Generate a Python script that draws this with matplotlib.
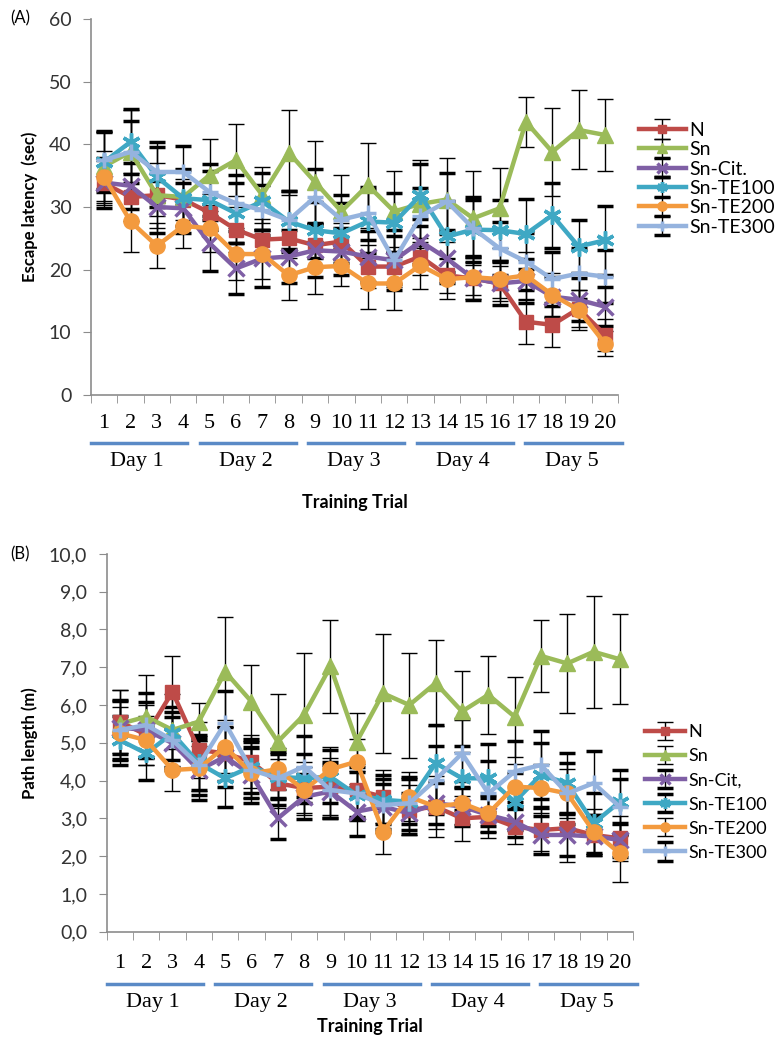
import numpy as np
import matplotlib
matplotlib.use('Agg')
from matplotlib import pyplot as plt
from matplotlib.transforms import blended_transform_factory

trials = np.arange(1, 21)
days = ['Day 1', 'Day 2', 'Day 3', 'Day 4', 'Day 5']

names_a = ['N', 'Sn', 'Sn-Cit.', 'Sn-TE100', 'Sn-TE200', 'Sn-TE300']
names_b = ['N', 'Sn', 'Sn-Cit,', 'Sn-TE100', 'Sn-TE200', 'Sn-TE300']

# (A) escape latency, sec
lat_n = [33.8, 31.6, 31.9, 31.2, 29.1, 26.4, 24.8, 25.0, 23.9, 24.5,
         20.5, 20.5, 22.1, 19.1, 18.6, 17.8, 11.7, 11.2, 13.8, 9.6]
lat_sn = [36.5, 38.8, 31.9, 31.6, 35.1, 37.5, 31.9, 38.7, 34.0, 29.3,
          33.5, 29.3, 30.5, 31.2, 28.2, 29.8, 43.6, 38.8, 42.3, 41.5]
lat_cit = [33.9, 33.4, 30.0, 29.8, 24.2, 20.2, 21.8, 22.1, 23.1, 22.9,
           22.1, 21.5, 24.5, 21.8, 18.6, 17.8, 18.2, 15.7, 15.2, 14.1]
lat_te100 = [37.2, 40.4, 34.8, 31.4, 31.1, 29.0, 30.9, 27.7, 26.3, 25.8,
             27.7, 27.5, 31.9, 25.3, 26.4, 26.3, 25.7, 28.7, 23.7, 24.7]
lat_te200 = [34.8, 27.7, 23.8, 27.0, 26.6, 22.5, 22.5, 19.1, 20.4, 20.6,
             17.8, 17.8, 20.7, 18.5, 18.8, 18.5, 19.1, 16.0, 13.6, 8.2]
lat_te300 = [37.5, 38.8, 35.6, 35.6, 32.4, 30.6, 29.5, 27.9, 31.6, 28.0,
             29.0, 21.5, 28.5, 30.9, 26.6, 23.4, 21.3, 18.5, 19.4, 18.9]

lat_n_err = [3.5, 3.8, 3.4, 3.2, 3.0, 3.6, 3.3, 3.2, 3.5, 3.0,
             3.4, 3.2, 3.0, 2.8, 2.6, 2.8, 3.5, 3.6, 3.0, 2.6]
lat_sn_err = [5.5, 6.7, 5.2, 4.6, 5.8, 5.7, 4.5, 6.8, 6.5, 5.8,
              6.8, 6.5, 7.0, 6.7, 7.5, 6.4, 4.0, 7.0, 6.3, 5.8]
lat_cit_err = [4.0, 3.7, 4.2, 4.0, 4.4, 4.0, 4.6, 4.2, 4.3, 3.8,
               4.0, 3.8, 3.6, 3.9, 3.5, 3.4, 3.5, 3.2, 3.4, 3.1]
lat_te100_err = [4.8, 5.2, 4.8, 4.5, 4.6, 4.8, 4.5, 4.9, 4.5, 4.8,
                 5.0, 4.7, 5.0, 5.6, 5.2, 4.9, 5.6, 5.2, 4.3, 5.5]
lat_te200_err = [4.2, 4.8, 3.6, 3.5, 3.8, 4.2, 4.0, 4.0, 4.2, 3.2,
                 4.0, 4.2, 3.8, 3.2, 3.5, 3.0, 3.8, 3.5, 3.2, 2.0]
lat_te300_err = [4.6, 5.0, 4.8, 4.2, 4.5, 4.5, 4.0, 4.6, 4.5, 4.0,
                 4.2, 4.8, 4.5, 4.6, 4.5, 4.2, 4.6, 4.3, 4.0, 4.2]

# (B) path length, m
path_n = [5.56, 5.21, 6.35, 4.81, 4.72, 4.50, 3.93, 3.80, 3.84, 3.75,
          3.57, 3.22, 3.31, 3.00, 3.04, 2.78, 2.69, 2.74, 2.56, 2.47]
path_sn = [5.50, 5.69, 5.34, 5.56, 6.88, 6.09, 5.03, 5.74, 7.02, 5.03,
           6.31, 6.00, 6.58, 5.83, 6.27, 5.69, 7.30, 7.10, 7.41, 7.21]
path_cit = [5.40, 5.34, 4.99, 4.28, 4.63, 4.15, 3.00, 3.57, 3.71, 3.18,
            3.31, 3.13, 3.40, 3.31, 3.09, 2.91, 2.56, 2.56, 2.52, 2.43]
path_te100 = [5.07, 4.72, 5.25, 4.46, 4.06, 4.37, 4.10, 4.06, 4.10, 3.62,
              3.49, 3.44, 4.46, 4.06, 4.06, 3.44, 4.15, 3.93, 2.87, 3.44]
path_te200 = [5.25, 5.07, 4.28, 4.32, 4.90, 4.19, 4.30, 3.75, 4.30, 4.50,
              2.65, 3.57, 3.31, 3.40, 3.13, 3.84, 3.80, 3.66, 2.65, 2.07]
path_te300 = [5.34, 5.47, 5.07, 4.41, 5.52, 4.28, 4.06, 4.37, 3.75, 3.66,
              3.35, 3.40, 4.02, 4.72, 3.66, 4.24, 4.41, 3.66, 3.93, 3.30]

path_n_err = [0.84, 0.80, 0.95, 0.75, 0.70, 0.70, 0.65, 0.70, 0.75, 0.70,
              0.70, 0.65, 0.80, 0.60, 0.55, 0.45, 0.55, 0.90, 0.55, 0.60]
path_sn_err = [0.90, 1.10, 0.95, 0.50, 1.46, 0.97, 1.26, 1.63, 1.23, 0.77,
               1.57, 1.39, 1.14, 1.08, 1.03, 1.06, 0.95, 1.30, 1.48, 1.19]
path_cit_err = [0.70, 0.75, 0.70, 0.80, 0.80, 0.75, 0.55, 0.60, 0.70, 0.65,
                0.60, 0.55, 0.55, 0.50, 0.45, 0.40, 0.50, 0.55, 0.50, 0.45]
path_te100_err = [0.65, 0.70, 0.70, 0.70, 0.75, 0.70, 0.60, 0.65, 0.70, 0.60,
                  0.65, 0.60, 1.00, 0.85, 0.90, 0.75, 0.85, 0.80, 0.80, 0.85]
path_te200_err = [0.70, 0.65, 0.55, 0.60, 0.70, 0.65, 0.55, 0.60, 0.60, 0.60,
                  0.60, 0.65, 0.60, 0.55, 0.50, 0.60, 0.65, 0.65, 0.60, 0.75]
path_te300_err = [0.80, 0.85, 0.75, 0.80, 0.85, 0.75, 0.70, 0.80, 0.75, 0.70,
                  0.70, 0.70, 0.90, 0.90, 0.85, 0.80, 0.90, 0.80, 0.85, 0.75]

colors = ['#BE4B48', '#9BBB59', '#7F5FA5', '#3FA8C4', '#F39A3E', '#95B3DE']
markers = ['s', '^', 'x', (6, 2, 0), 'o', '+']
msizes = [10, 11, 11, 13, 11, 12]

sans = ['Lato', 'DejaVu Sans']
serif = ['Liberation Serif', 'DejaVu Serif']
day_blue = '#5A8AC6'
grey = '#8C8C8C'


def panel(ax, series, errs, names, ylim, ystep, fmt, ylabel, tag, tag_y,
          xlab_pad, line_y, day_y, title_y, leg_anchor, leg_spacing, leg_size, leg_hl):
    for vals, err, name, c, m, ms in zip(series, errs, names, colors, markers, msizes):
        ax.errorbar(trials, vals, yerr=err, color=c, ecolor='black', elinewidth=1,
                    capsize=5.5, capthick=1, lw=3.2, marker=m, ms=ms,
                    mew=2.5 if m in ('x', '+') or isinstance(m, tuple) else 1,
                    mfc=c, mec=c, label=name, zorder=3)
    ax.set_xlim(0.5, 20.5)
    ax.set_ylim(*ylim)
    yt = np.arange(ylim[0], ylim[1] + ystep / 2, ystep)
    ax.set_yticks(yt)
    ax.set_yticklabels([fmt(v) for v in yt], family=sans, fontsize=14, color='#333333')
    ax.set_xticks(trials)
    ax.set_xticklabels([str(t) for t in trials], family=serif, fontsize=16)
    ax.set_xticks(np.arange(0.5, 21, 1), minor=True)
    ax.tick_params(axis='x', which='major', length=0, pad=xlab_pad)
    ax.tick_params(axis='x', which='minor', length=6, color=grey)
    ax.tick_params(axis='y', length=6, color=grey, pad=8)
    for s in ['top', 'right']:
        ax.spines[s].set_visible(False)
    for s in ['left', 'bottom']:
        ax.spines[s].set_color(grey)
        ax.spines[s].set_linewidth(1.2)
    ax.set_ylabel(ylabel, family=sans, fontsize=12, fontweight='bold', labelpad=8)

    tr = blended_transform_factory(ax.transData, ax.transAxes)
    for d, day in enumerate(days):
        start = 0.5 + 4.12 * d
        ax.plot([start, start + 3.65], [line_y, line_y], color=day_blue, lw=2.5,
                transform=tr, clip_on=False)
        ax.text(start + 1.75, day_y, day, transform=tr, ha='center', va='center',
                family=serif, fontsize=16)
    ax.text(10.5, title_y, 'Training Trial', transform=tr, ha='center', va='center',
            family=sans, fontsize=13, fontweight='bold')
    fig.text(0.013, tag_y, tag, family=sans, fontsize=12, va='center')

    ax.legend(loc='upper left', bbox_to_anchor=leg_anchor, bbox_transform=fig.transFigure,
              frameon=False, prop={'family': sans, 'size': leg_size}, handlelength=leg_hl,
              handletextpad=0.2, labelspacing=leg_spacing, borderpad=0,
              borderaxespad=0, markerscale=0.6)
    return ax


fig = plt.figure(figsize=(7.81, 10.42), dpi=100)
ax1 = fig.add_axes([0.1165, 0.6209, 0.675, 0.3608])
ax2 = fig.add_axes([0.1366, 0.1059, 0.674, 0.3625])

panel(ax1,
      [lat_n, lat_sn, lat_cit, lat_te100, lat_te200, lat_te300],
      [lat_n_err, lat_sn_err, lat_cit_err, lat_te100_err, lat_te200_err, lat_te300_err],
      names_a, (0, 60), 10, lambda v: '%d' % v, 'Escape latency  (sec)', '(A)', 0.982,
      14, -0.128, -0.178, -0.285, (0.818, 0.883), 0.12, 14, 2.4)

panel(ax2,
      [path_n, path_sn, path_cit, path_te100, path_te200, path_te300],
      [path_n_err, path_sn_err, path_cit_err, path_te100_err, path_te200_err, path_te300_err],
      names_b, (0, 10), 1, lambda v: ('%.1f' % v).replace('.', ','), 'Path length (m)', '(B)', 0.468,
      16, -0.138, -0.188, -0.252, (0.826, 0.305), 0.45, 13, 2.2)

fig.savefig('out.png', dpi=100)
